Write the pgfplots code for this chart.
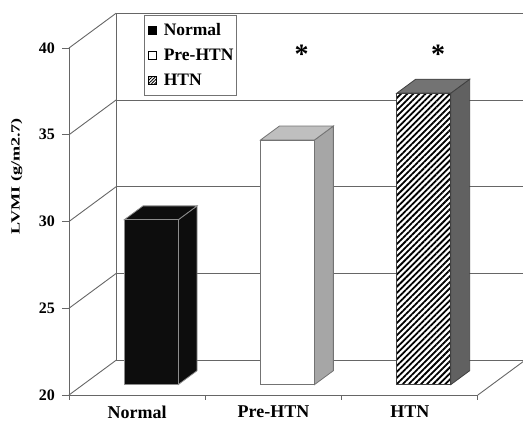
\documentclass[border=0pt]{standalone}
\usepackage{pgfplots}
\pgfplotsset{compat=1.18}
\usepackage{fontspec}
\setmainfont{Liberation Serif}
\usepackage{graphicx}
\usetikzlibrary{patterns.meta}

% depth of the floor / back wall in axis units
\def\wdx{0.345}
\def\wdy{2.0}

% one 3-D bar: #1 category centre, #2 value, #3 front, #4 top, #5 side
\newcommand{\threedbar}[5]{%
  \pgfmathsetmacro\xl{#1-0.198+0.1035}%
  \pgfmathsetmacro\xr{#1+0.198+0.1035}%
  \pgfmathsetmacro\xlb{\xl+0.138}%
  \pgfmathsetmacro\xrb{\xr+0.138}%
  \pgfmathsetmacro\yf{#2+0.6}%
  \pgfmathsetmacro\yb{#2+1.4}%
  \addplot[forget plot,#5] coordinates {(\xr,20.6) (\xrb,21.4) (\xrb,\yb) (\xr,\yf)} -- cycle;
  \addplot[forget plot,#4] coordinates {(\xl,\yf) (\xr,\yf) (\xrb,\yb) (\xlb,\yb)} -- cycle;
  \addplot[forget plot,#3] coordinates {(\xl,20.6) (\xr,20.6) (\xr,\yf) (\xl,\yf)} -- cycle;
}

\begin{document}
\begin{tikzpicture}
\useasboundingbox (-69pt,-27pt) rectangle (454pt,395pt);
\begin{axis}[
  x=136.3pt, y=17.35pt,
  xmin=0, xmax=3.33, ymin=20, ymax=42.77,
  clip=false,
  axis x line=bottom, axis y line=left,
  axis line style={draw=none,-},
  ytick={20,25,30,35,40},
  xtick={0.5,1.5,2.5},
  xticklabels={Normal,Pre-HTN,HTN},
  minor xtick={0,1,2,3},
  tick align=outside,
  major tick length=7pt, minor tick length=5pt,
  major x tick style={draw=none},
  minor x tick style={draw=black!60, line width=0.9pt},
  ytick style={draw=black!60, line width=0.9pt},
  /pgf/number format/assume math mode=true,
  yticklabel style={font=\fontsize{16}{16}\selectfont\bfseries, xshift=-3.5pt},
  xticklabel style={font=\fontsize{18}{18}\selectfont\bfseries},
  wall/.style={forget plot, draw=black!60, line width=0.9pt},
  legend style={at={(axis cs:0.55,41.9)}, anchor=north west,
    draw=black!55, line width=1.2pt, fill=white,
    font=\fontsize{17.5}{18}\selectfont\bfseries,
    inner xsep=1pt, inner ysep=6pt, row sep=8pt,
    cells={anchor=west}},
]
% back wall, side wall and floor
\addplot[wall] coordinates {(0.345,22) (0.345,42)};
\addplot[wall] coordinates {(0.345,22) (3.345,22)};
\addplot[wall] coordinates {(0.345,27) (3.345,27)};
\addplot[wall] coordinates {(0.345,32) (3.345,32)};
\addplot[wall] coordinates {(0.345,37) (3.345,37)};
\addplot[wall] coordinates {(0.345,42) (3.345,42)};
\addplot[wall] coordinates {(0,20) (0.345,22)};
\addplot[wall] coordinates {(0,25) (0.345,27)};
\addplot[wall] coordinates {(0,30) (0.345,32)};
\addplot[wall] coordinates {(0,35) (0.345,37)};
\addplot[wall] coordinates {(0,40) (0.345,42)};
\addplot[wall] coordinates {(3,20) (3.345,22)};
\addplot[wall] coordinates {(0,20) (0,40)};
\addplot[wall] coordinates {(0,20) (3,20)};

% bars
\threedbar{0.5}{29.5}
  {fill=black!95, draw=black!45, line width=0.8pt}
  {fill=black!95, draw=black!45, line width=0.8pt}
  {fill=black!95, draw=black!45, line width=0.8pt}
\threedbar{1.5}{34.1}
  {fill=white, draw=black!55, line width=0.8pt}
  {fill=black!25, draw=black!55, line width=0.8pt}
  {fill=black!35, draw=black!55, line width=0.8pt}
\threedbar{2.5}{36.8}
  {fill=white, draw=black!75, line width=0.8pt,
   postaction={pattern={Lines[angle=45,distance=4.3pt,line width=1.8pt]}, pattern color=black}}
  {fill=black!55, draw=black!75, line width=0.8pt}
  {fill=black!62, draw=black!75, line width=0.8pt}

% significance marks
\node[anchor=base] at (axis cs:1.707,39.1) {\fontsize{28}{28}\selectfont\bfseries *};
\node[anchor=base] at (axis cs:2.709,39.1) {\fontsize{28}{28}\selectfont\bfseries *};

% axis title
\node[rotate=90, anchor=base] at (axis cs:-0.363,32.62)
  {\fontsize{12.5}{13}\selectfont\bfseries\scalebox{1.45}[1]{LVMI (g/m2.7)}};

% legend
\addlegendimage{legend image code/.code={\path (0pt,0pt) (15pt,0pt);
  \draw[black, fill=black, line width=0.5pt] (2pt,-4pt) rectangle (10pt,4pt);}}
\addlegendentry{Normal}
\addlegendimage{legend image code/.code={\path (0pt,0pt) (15pt,0pt);
  \draw[black, fill=white, line width=0.5pt] (2pt,-4pt) rectangle (10pt,4pt);}}
\addlegendentry{Pre-HTN}
\addlegendimage{legend image code/.code={\path (0pt,0pt) (15pt,0pt);
  \draw[black, line width=0.5pt, pattern={Lines[angle=45,distance=2.2pt,line width=0.9pt]}, pattern color=black] (2pt,-4pt) rectangle (10pt,4pt);}}
\addlegendentry{HTN}
\end{axis}
\end{tikzpicture}
\end{document}
